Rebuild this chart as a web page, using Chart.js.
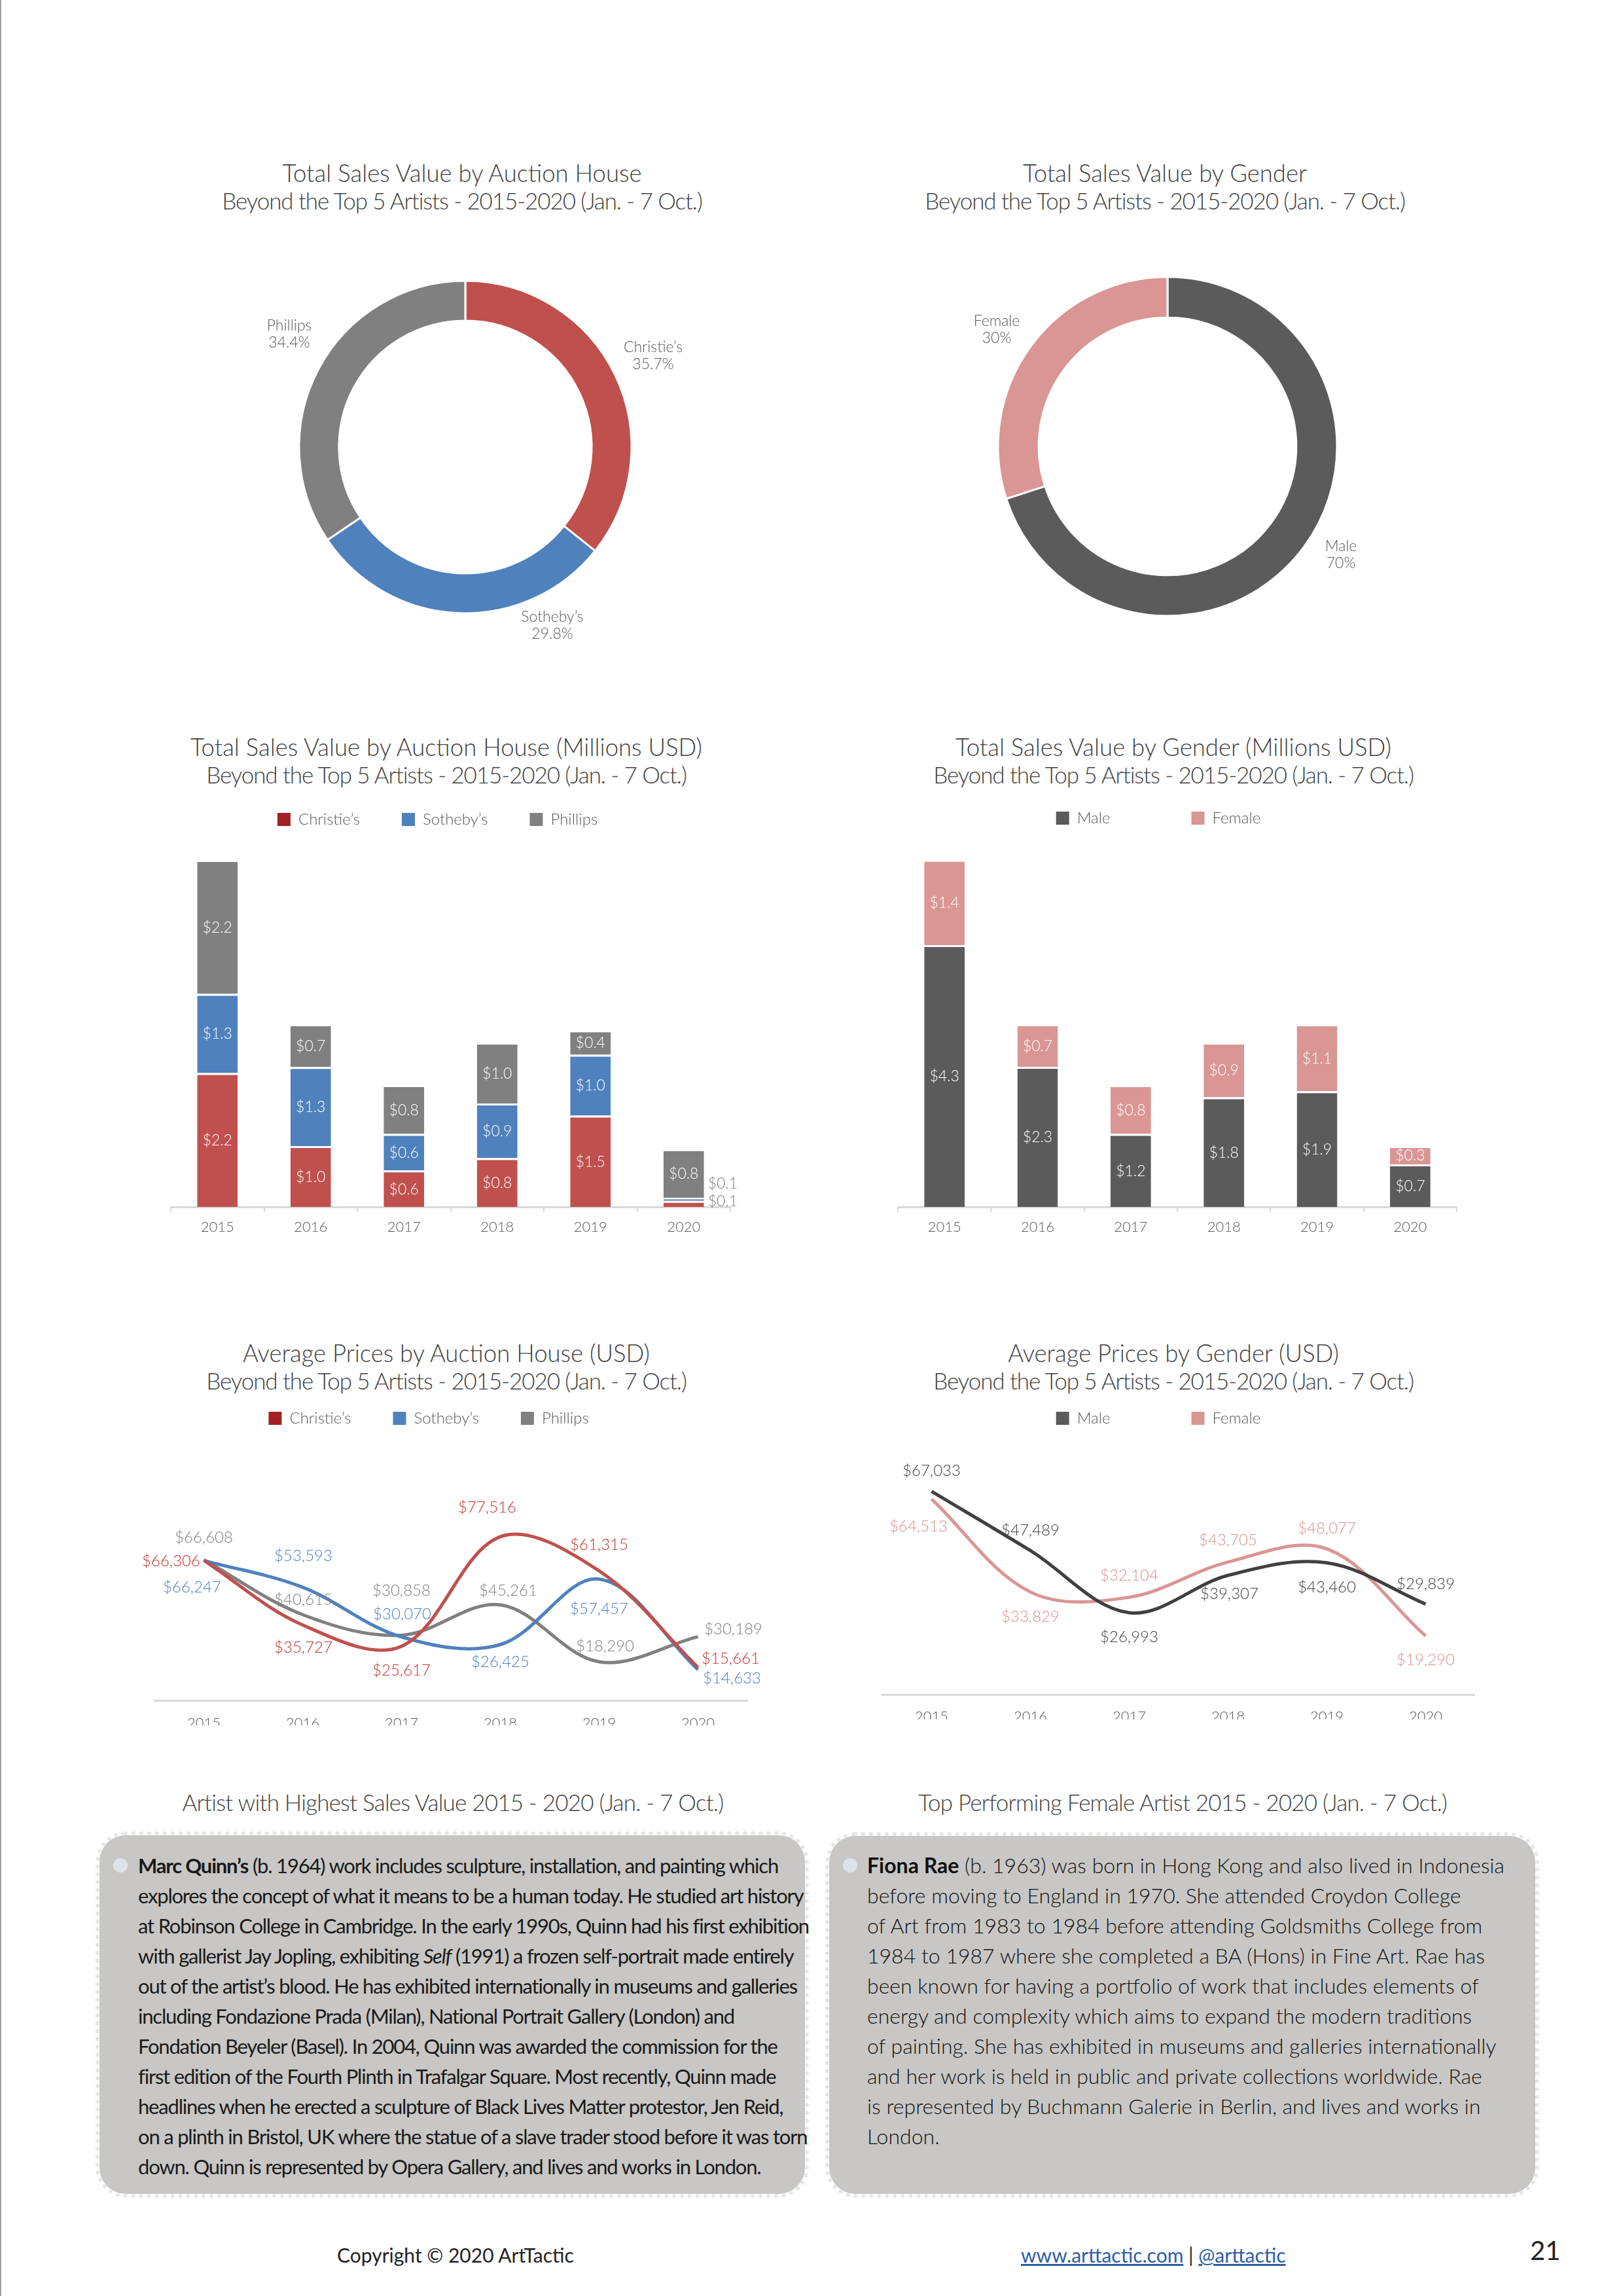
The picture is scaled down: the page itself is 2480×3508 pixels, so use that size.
<!DOCTYPE html>
<html>
<head>
<meta charset="utf-8">
<title>Beyond the Top 5 Artists 2015-2020</title>
<script src="https://cdn.jsdelivr.net/npm/chart.js@4.4.1/dist/chart.umd.min.js"></script>
<style>
  html, body { margin: 0; padding: 0; background: #fff; }
  body { position: relative; width: 2480px; height: 3508px; overflow: hidden; font-family: Lato, "Open Sans", sans-serif; }
  .edge { position: absolute; left: 0; top: 0; width: 2px; height: 3508px; background: #a0a0a0; }
  .title { position: absolute; width: 1200px; margin-left: -600px; text-align: center; font-size: 35px; font-weight: 300; line-height: 42px; color: #404040; white-space: nowrap; }
  .title .t1 { font-size: 36.5px; }
  .title .t2 { letter-spacing: -1.1px; }
  .title.small { letter-spacing: -0.8px; }
  .chart { position: absolute; }
  .box { position: absolute; box-sizing: border-box; border: 6px dotted #e6e6e6; border-radius: 46px; background: #c8c7c5; background-clip: padding-box; }
  .bullet { position: absolute; width: 22px; height: 22px; border-radius: 50%; background: #dde3e8; }
  .text { position: absolute; white-space: nowrap; line-height: 46px; color: #1a1a1a; font-family: Lato, sans-serif; }
  .narrow { font-size: 31px; font-weight: 400; letter-spacing: -1.2px; }
  .wide { font-size: 32px; font-weight: 300; color: #111; }
  .text b { font-weight: 700; }
  .foot { position: absolute; font-family: Lato, sans-serif; font-size: 30px; color: #222; white-space: nowrap; line-height: 36px; }
  .foot a { color: #2e5da8; text-decoration: underline; }
</style>
</head>
<body>
<div class="edge"></div>

<!-- chart titles -->
<div class="title" style="left:706px;top:243px"><span class="t1">Total Sales Value by Auction House</span><br><span class="t2">Beyond the Top 5 Artists - 2015-2020 (Jan. - 7 Oct.)</span></div>
<div class="title" style="left:1780px;top:243px"><span class="t1">Total Sales Value by Gender</span><br><span class="t2">Beyond the Top 5 Artists - 2015-2020 (Jan. - 7 Oct.)</span></div>
<div class="title" style="left:682px;top:1120px"><span class="t1">Total Sales Value by Auction House (Millions USD)</span><br><span class="t2">Beyond the Top 5 Artists - 2015-2020 (Jan. - 7 Oct.)</span></div>
<div class="title" style="left:1793px;top:1120px"><span class="t1">Total Sales Value by Gender (Millions USD)</span><br><span class="t2">Beyond the Top 5 Artists - 2015-2020 (Jan. - 7 Oct.)</span></div>
<div class="title" style="left:682px;top:2046px"><span class="t1">Average Prices by Auction House (USD)</span><br><span class="t2">Beyond the Top 5 Artists - 2015-2020 (Jan. - 7 Oct.)</span></div>
<div class="title" style="left:1793px;top:2046px"><span class="t1">Average Prices by Gender (USD)</span><br><span class="t2">Beyond the Top 5 Artists - 2015-2020 (Jan. - 7 Oct.)</span></div>

<canvas id="houseDonut" class="chart" width="800" height="700" style="left:311px;top:333px;width:800px;height:700px"></canvas>
<canvas id="genderDonut" class="chart" width="800" height="700" style="left:1384px;top:332px;width:800px;height:700px"></canvas>
<canvas id="houseBars" class="chart" width="905" height="728" style="left:221px;top:1176px;width:905px;height:728px"></canvas>
<canvas id="genderBars" class="chart" width="916" height="790" style="left:1314px;top:1114px;width:916px;height:790px"></canvas>
<canvas id="houseLines" class="chart" width="1002" height="545" style="left:168px;top:2091px;width:1002px;height:545px"></canvas>
<canvas id="genderLines" class="chart" width="968" height="596" style="left:1286px;top:2031px;width:968px;height:596px"></canvas>

<!-- artist boxes -->
<div class="title small" style="left:692px;top:2732px">Artist with Highest Sales Value 2015 - 2020 (Jan. - 7 Oct.)</div>
<div class="title small" style="left:1807px;top:2732px">Top Performing Female Artist 2015 - 2020 (Jan. - 7 Oct.)</div>

<div class="box" style="left:146px;top:2798px;width:1090px;height:560px"></div>
<div class="bullet" style="left:173px;top:2839px"></div>
<div class="text narrow" style="left:211px;top:2827px"><b>Marc Quinn’s</b> (b. 1964) work includes sculpture, installation, and painting which<br>explores the concept of what it means to be a human today. He studied art history<br>at Robinson College in Cambridge. In the early 1990s, Quinn had his first exhibition<br>with gallerist Jay Jopling, exhibiting <i>Self</i> (1991) a frozen self-portrait made entirely<br>out of the artist’s blood. He has exhibited internationally in museums and galleries<br>including Fondazione Prada (Milan), National Portrait Gallery (London) and<br>Fondation Beyeler (Basel). In 2004, Quinn was awarded the commission for the<br>first edition of the Fourth Plinth in Trafalgar Square. Most recently, Quinn made<br>headlines when he erected a sculpture of Black Lives Matter protestor, Jen Reid,<br>on a plinth in Bristol, UK where the statue of a slave trader stood before it was torn<br>down. Quinn is represented by Opera Gallery, and lives and works in London.</div>

<div class="box" style="left:1261px;top:2799px;width:1091px;height:559px"></div>
<div class="bullet" style="left:1288px;top:2839px"></div>
<div class="text wide" style="left:1325px;top:2827px"><b>Fiona Rae</b> (b. 1963) was born in Hong Kong and also lived in Indonesia<br>before moving to England in 1970. She attended Croydon College<br>of Art from 1983 to 1984 before attending Goldsmiths College from<br>1984 to 1987 where she completed a BA (Hons) in Fine Art. Rae has<br>been known for having a portfolio of work that includes elements of<br>energy and complexity which aims to expand the modern traditions<br>of painting. She has exhibited in museums and galleries internationally<br>and her work is held in public and private collections worldwide. Rae<br>is represented by Buchmann Galerie in Berlin, and lives and works in<br>London.</div>

<div class="foot" style="left:515px;top:3427px">Copyright © 2020 ArtTactic</div>
<div class="foot" style="left:1560px;top:3427px"><a>www.arttactic.com</a> | <a>@arttactic</a></div>
<div class="foot" style="left:2338px;top:3415px;font-size:40px;line-height:46px">21</div>

<script>
// values
const years = ['2015', '2016', '2017', '2018', '2019', '2020'];
const houses = ["Christie’s", "Sotheby’s", 'Phillips'];
const houseShare = [35.7, 29.8, 34.4];          // % of total sales value
const genders = ['Male', 'Female'];
const genderShare = [70, 30];

// total sales value, millions USD
const christiesSales = [2.2, 1.0, 0.6, 0.8, 1.5, 0.1];
const sothebysSales = [1.3, 1.3, 0.6, 0.9, 1.0, 0.05];
const phillipsSales = [2.2, 0.7, 0.8, 1.0, 0.4, 0.8];
const maleSales = [4.3, 2.3, 1.2, 1.8, 1.9, 0.7];
const femaleSales = [1.4, 0.7, 0.8, 0.9, 1.1, 0.3];

// average prices, USD
const christiesAvg = [66306, 35727, 25617, 77516, 61315, 15661];
const sothebysAvg = [66247, 53593, 30070, 26425, 57457, 14633];
const phillipsAvg = [66608, 40615, 30858, 45261, 18290, 30189];
const maleAvg = [67033, 47489, 26993, 39307, 43460, 29839];
const femaleAvg = [64513, 33829, 32104, 43705, 48077, 19290];

const RED = '#c0504d', BLUE = '#4f81bd', GREY = '#808080';
const DARK = '#5a5b5a', PINK = '#d99694';
const TXT = '#595959';
const FONT = 'Lato, "Open Sans", sans-serif';

Chart.defaults.font.family = FONT;
Chart.defaults.font.weight = 300;
Chart.defaults.animation = false;

// label placement (canvas px) - kept apart from the data
const houseDonutPos = [[287, -139], [133, 273], [-269, -172]];
const genderDonutPos = [[265, 166], [-261, -178]];
const houseLinePos = [
  [[-50, 1], [1, 35], [0, 37], [-20, -45], [0, -40], [50, -13]],
  [[-18, 41], [1, -48], [1, -35], [0, 27], [0, 46], [52, 13]],
  [[0, -34], [1, -23], [0, -68], [12, -22], [9, -24], [54, -11]]
];
const genderLinePos = [
  [[0, -31], [0, -31], [0, 37], [2, 28], [0, 37], [0, -31]],
  [[-20, 42], [0, 38], [0, -33], [0, -33], [0, -31], [0, 37]]
];

function donutLabels(pos) {
  return {
    id: 'donutLabels',
    afterDatasetsDraw(chart) {
      const ctx = chart.ctx;
      const arc = chart.getDatasetMeta(0).data[0];
      const vals = chart.data.datasets[0].data;
      ctx.save();
      ctx.font = '300 23px ' + FONT;
      ctx.fillStyle = TXT;
      ctx.textAlign = 'center';
      ctx.textBaseline = 'middle';
      chart.data.labels.forEach((lab, i) => {
        const x = arc.x + pos[i][0], y = arc.y + pos[i][1];
        ctx.fillText(lab, x, y - 13);
        ctx.fillText(vals[i] + '%', x, y + 13);
      });
      ctx.restore();
    }
  };
}

function barLabels(smallDy) {
  return {
    id: 'barLabels',
    afterDatasetsDraw(chart) {
      const ctx = chart.ctx;
      ctx.save();
      ctx.font = '300 23px ' + FONT;
      ctx.textBaseline = 'middle';
      chart.data.datasets.forEach((ds, i) => {
        chart.getDatasetMeta(i).data.forEach((bar, j) => {
          const v = ds.data[j];
          const txt = '$' + v.toFixed(1);
          const cy = (bar.y + bar.base) / 2;
          if (v >= 0.2) {
            ctx.fillStyle = '#fff';
            ctx.textAlign = 'center';
            ctx.fillText(txt, bar.x, cy + 1);
          } else {
            // too thin: put it beside the bar
            ctx.fillStyle = '#7f7f7f';
            ctx.textAlign = 'left';
            ctx.fillText(txt, bar.x + bar.width / 2 + 6, cy + smallDy[i]);
          }
        });
      });
      ctx.restore();
    }
  };
}

function lineLabels(pos, colors) {
  return {
    id: 'lineLabels',
    afterDatasetsDraw(chart) {
      const ctx = chart.ctx;
      ctx.save();
      ctx.font = '300 24px ' + FONT;
      ctx.textAlign = 'center';
      ctx.textBaseline = 'middle';
      chart.data.datasets.forEach((ds, i) => {
        ctx.fillStyle = colors[i];
        chart.getDatasetMeta(i).data.forEach((pt, j) => {
          ctx.fillText('$' + ds.data[j].toLocaleString('en-US'), pt.x + pos[i][j][0], pt.y + pos[i][j][1]);
        });
      });
      ctx.restore();
    }
  };
}

// legend with square swatches in given colours
function legend(colors, gap) {
  return {
    position: 'top',
    labels: {
      boxWidth: 20, boxHeight: 20, padding: gap, color: TXT,
      font: { size: 24, weight: 300 },
      generateLabels: (chart) => chart.data.datasets.map((ds, i) => ({
        text: ds.label, fillStyle: colors[i], strokeStyle: colors[i], lineWidth: 0,
        hidden: false, datasetIndex: i, fontColor: TXT
      }))
    }
  };
}

function hiddenY(max, width, stacked) {
  return {
    stacked: stacked, min: 0, max: max,
    grid: { display: false }, border: { display: false }, ticks: { display: false },
    afterFit: (s) => { s.width = width; }
  };
}

function donut(id, labels, values, colors, radius, pos) {
  new Chart(document.getElementById(id), {
    type: 'doughnut',
    data: { labels: labels, datasets: [{ data: values, backgroundColor: colors, borderColor: '#fff', borderWidth: 3 }] },
    options: {
      responsive: false, devicePixelRatio: 1, radius: radius, cutout: '76%',
      plugins: { legend: { display: false }, tooltip: { enabled: false } }
    },
    plugins: [donutLabels(pos)]
  });
}

donut('houseDonut', houses, houseShare, [RED, BLUE, GREY], 254, houseDonutPos);
donut('genderDonut', genders, genderShare, [DARK, PINK], 259, genderDonutPos);

const barX = {
  stacked: true,
  grid: { display: true, drawOnChartArea: false, drawTicks: true, tickLength: 8, color: '#d9d9d9', lineWidth: 2 },
  border: { color: '#d9d9d9', width: 3 },
  ticks: { color: TXT, font: { size: 22, weight: 300 }, padding: 10 },
  afterFit: (s) => { s.height = 60; }
};

function barSet(label, values, color) {
  return {
    label: label, data: values, backgroundColor: color, borderColor: '#fff',
    borderWidth: { top: 3, right: 0, bottom: 0, left: 0 }, borderSkipped: false,
    categoryPercentage: 1, barPercentage: 0.435
  };
}

new Chart(document.getElementById('houseBars'), {
  type: 'bar',
  data: {
    labels: years,
    datasets: [
      barSet(houses[0], christiesSales, RED),
      barSet(houses[1], sothebysSales, BLUE),
      barSet(houses[2], phillipsSales, GREY)
    ]
  },
  options: {
    responsive: false, devicePixelRatio: 1,
    layout: { padding: { right: 10 } },
    scales: { x: barX, y: hiddenY(6.13, 40, true) },
    plugins: { legend: legend(['#a31f24', BLUE, GREY], 64), tooltip: { enabled: false } }
  },
  plugins: [barLabels([-4, -24, 0])]
});

new Chart(document.getElementById('genderBars'), {
  type: 'bar',
  data: {
    labels: years,
    datasets: [barSet(genders[0], maleSales, DARK), barSet(genders[1], femaleSales, PINK)]
  },
  options: {
    responsive: false, devicePixelRatio: 1,
    layout: { padding: { right: 4 } },
    scales: { x: barX, y: hiddenY(6.15, 58, true) },
    plugins: { legend: legend([DARK, PINK], 124), tooltip: { enabled: false } }
  },
  plugins: [barLabels([0, 0])]
});

// x axis of the line charts: the canvas ends inside the year labels, which cuts them like the original
function lineX(pad) {
  return {
    offset: true,
    grid: { display: false },
    border: { color: '#d9d9d9', width: 3 },
    ticks: { color: TXT, font: { size: 22, weight: 300 }, padding: pad },
    afterFit: (s) => { s.height = 38; }
  };
}

function lineSet(label, values, color) {
  return { label: label, data: values, borderColor: color, backgroundColor: color, borderWidth: 5, pointRadius: 0, tension: 0.35, fill: false };
}

new Chart(document.getElementById('houseLines'), {
  type: 'line',
  data: {
    labels: years,
    datasets: [
      lineSet(houses[0], christiesAvg, RED),
      lineSet(houses[1], sothebysAvg, BLUE),
      lineSet(houses[2], phillipsAvg, GREY)
    ]
  },
  options: {
    responsive: false, devicePixelRatio: 1,
    layout: { padding: { right: 28 } },
    scales: { x: lineX(14), y: hiddenY(126790, 68, false) },
    plugins: { legend: legend(['#a31f24', BLUE, GREY], 64), tooltip: { enabled: false } }
  },
  plugins: [lineLabels(houseLinePos, ['#c3302c', '#4f7fc0', '#7f7f7f'])]
});

new Chart(document.getElementById('genderLines'), {
  type: 'line',
  data: {
    labels: years,
    datasets: [lineSet(genders[0], maleAvg, '#404040'), lineSet(genders[1], femaleAvg, PINK)]
  },
  options: {
    responsive: false, devicePixelRatio: 1,
    scales: { x: lineX(13), y: hiddenY(86400, 62, false) },
    plugins: { legend: legend([DARK, PINK], 124), tooltip: { enabled: false } }
  },
  plugins: [lineLabels(genderLinePos, ['#404040', '#d9918d'])]
});
</script>
</body>
</html>
